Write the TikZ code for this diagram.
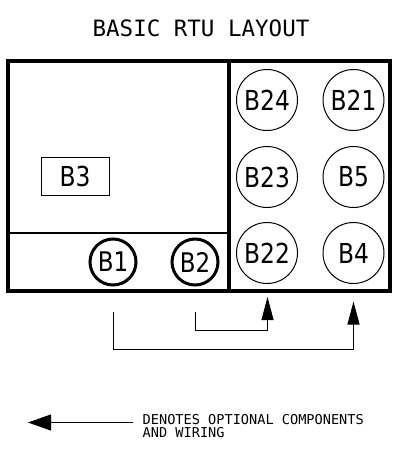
\documentclass[tikz,border=0pt]{standalone}
\usepackage{fontspec}
\setmainfont{DejaVu Sans}
\newfontfamily\monof{DejaVu Sans Mono}
\newfontfamily\labf[FakeStretch=0.85]{DejaVu Sans}
\usetikzlibrary{arrows.meta}
\tikzset{
  heavy/.style={draw=black,line width=3.2pt},
  thinbox/.style={draw=black,line width=1pt,inner sep=0pt,font=\labf\fontsize{27.5}{30}\selectfont},
  portsmall/.style={thinbox,circle,minimum size=61pt},
  portbold/.style={thinbox,circle,line width=3pt,minimum size=46pt,font=\labf\fontsize{27}{30}\selectfont},
  wire/.style={draw=black,line width=1pt},
  wirearrow/.style={wire,-{Triangle[length=23pt,width=12pt]}},
  legendarrow/.style={wire,-{Triangle[length=23pt,width=16pt]}},
}
\begin{document}
\begin{tikzpicture}[x=1pt,y=-1pt]
\useasboundingbox (0,0) rectangle (393,466);
\draw[heavy] (8,61) rectangle (390,291);
\draw[heavy] (229,61) -- (229,291);
\draw[line width=1.6pt] (8,233) -- (229,233);
\node[anchor=base,inner sep=0pt,font=\monof\fontsize{22.5}{26}\selectfont] (title) at (201,36) {BASIC RTU LAYOUT};
\node[thinbox,minimum width=68pt,minimum height=38pt] (b3) at (75,176) {B3};
\node[portbold] (b1) at (113,262) {B1};
\node[portbold] (b2) at (195,262) {B2};
\node[portsmall] (b24) at (267,100) {B24};
\node[portsmall] (b23) at (267,177) {B23};
\node[portsmall] (b22) at (267,253) {B22};
\node[portsmall] (b21) at (353.5,100) {B21};
\node[portsmall] (b5) at (353.5,177) {B5};
\node[portsmall] (b4) at (353.5,253) {B4};
\coordinate (s1) at (113.5,312);
\coordinate (s2) at (195.5,312);
\coordinate (e1) at (353.5,301.5);
\coordinate (e2) at (267.5,297);
\draw[wirearrow] (s1) |- (353.5,349.5) -- (e1);
\draw[wirearrow] (s2) |- (267.5,330.5) -- (e2);
\coordinate (l1) at (133,422.5);
\coordinate (l2) at (28,422.5);
\draw[legendarrow] (l1) -- (l2);
\node[anchor=base west,inner sep=0pt,font=\monof\fontsize{13.6}{13.6}\selectfont] (d1) at (142.5,424) {DENOTES OPTIONAL COMPONENTS};
\node[anchor=base west,inner sep=0pt,font=\monof\fontsize{13.6}{13.6}\selectfont] (d2) at (142.5,437.5) {AND WIRING};
\end{tikzpicture}
\end{document}
